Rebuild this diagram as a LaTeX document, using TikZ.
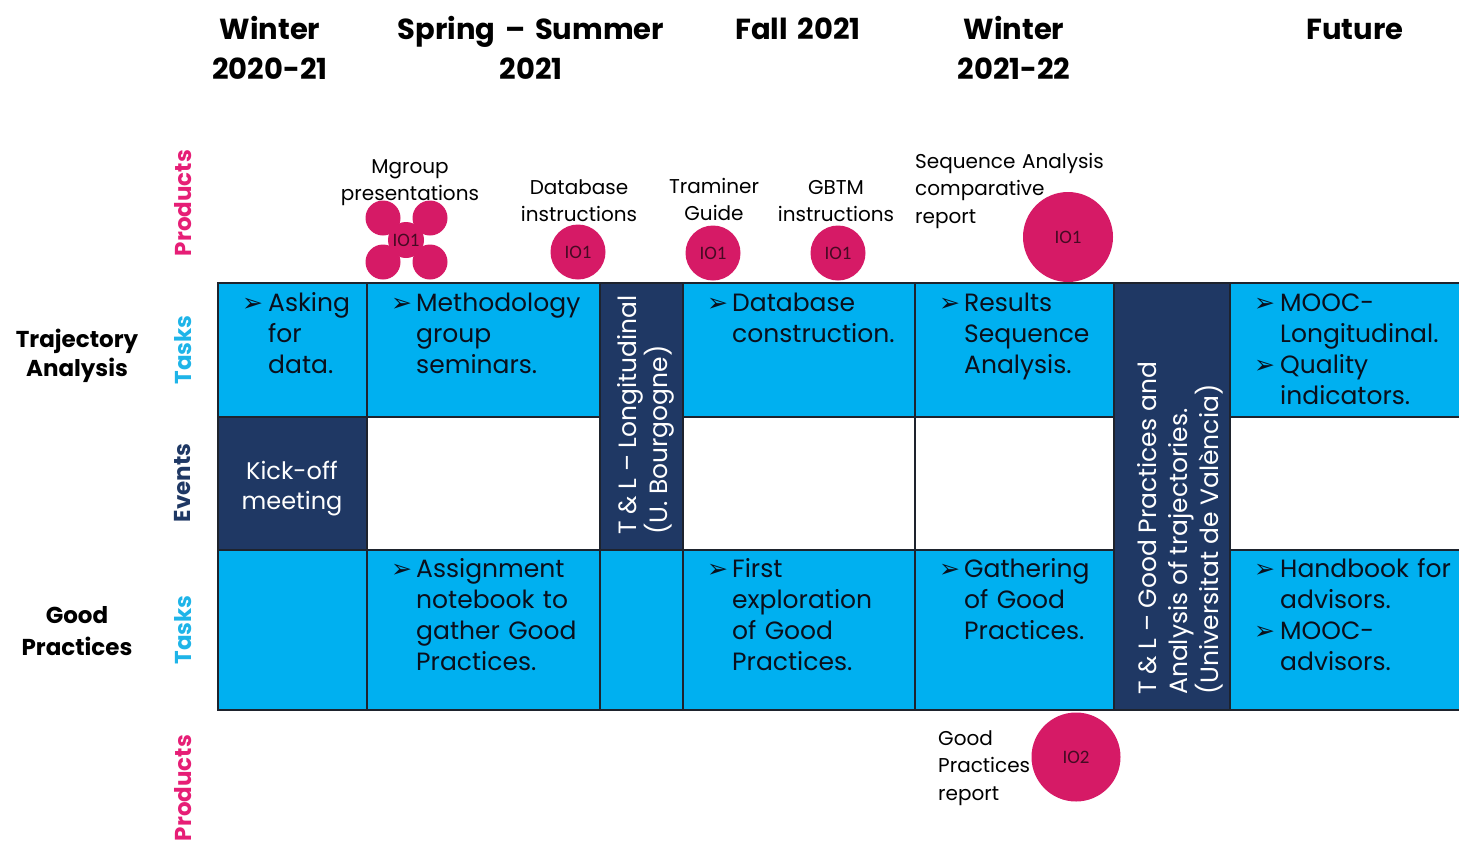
\documentclass[tikz,border=0pt]{standalone}
\usepackage{fontspec}
\setmainfont{Poppins}
\newfontfamily\arrowfont{DejaVu Sans}
\newfontfamily\iofont{Carlito}
\definecolor{tcyan}{RGB}{0,176,240}
\definecolor{tnavy}{RGB}{31,56,100}
\definecolor{tmag}{RGB}{214,26,102}
\definecolor{tpink}{RGB}{230,30,118}
\definecolor{tsky}{RGB}{30,180,232}
\definecolor{ttext}{RGB}{10,15,28}
\definecolor{tline}{RGB}{30,35,45}
\definecolor{tiotext}{RGB}{70,10,35}
\begin{document}
\begin{tikzpicture}[x=1pt,y=-1pt,
  cell/.style={draw=tline, line width=1.2pt},
  ctext/.style={anchor=base west, inner sep=0pt, text width=190pt, align=left, text=ttext, font=\fontsize{25}{31}\selectfont},
  bul/.style={anchor=base west, inner sep=0pt, text=ttext, font=\arrowfont\fontsize{25}{25}\selectfont},
  head/.style={anchor=base, inner sep=0pt, text width=320pt, align=center, font=\bfseries\fontsize{29}{40}\selectfont},
  side/.style={anchor=base, inner sep=0pt, text width=200pt, align=center, font=\bfseries\fontsize{23}{29}\selectfont},
  vlab/.style={rotate=90, inner sep=0pt, font=\bfseries\fontsize{23}{23}\selectfont},
  plab/.style={anchor=base, inner sep=0pt, text width=200pt, align=center, font=\fontsize{20}{27}\selectfont},
  plabl/.style={anchor=base west, inner sep=0pt, text width=220pt, align=left, font=\fontsize{20}{27.5}\selectfont},
  io/.style={circle, fill=tmag, inner sep=0pt, text=tiotext, font=\iofont\fontsize{19}{19}\selectfont},
  vtext/.style={rotate=90, anchor=west, inner sep=0pt, align=left, text=white, font=\fontsize{25}{31}\selectfont},
]
\useasboundingbox (0,0) rectangle (1459,844);
\clip (0,0) rectangle (1459,844);

% ---- grid cells ----
\foreach \a/\b/\c/\d/\f in {
  218/283/367/417/tcyan, 367/283/600/417/tcyan, 683/283/915/417/tcyan,
  915/283/1114/417/tcyan, 1230/283/1475/417/tcyan,
  218/417/367/550/tnavy, 367/417/600/550/white, 683/417/915/550/white,
  915/417/1114/550/white, 1230/417/1475/550/white,
  218/550/367/710/tcyan, 367/550/600/710/tcyan, 600/550/683/710/tcyan,
  683/550/915/710/tcyan, 915/550/1114/710/tcyan, 1230/550/1475/710/tcyan,
  600/283/683/550/tnavy, 1114/283/1230/710/tnavy}
  \filldraw[cell, fill=\f] (\a,\b) rectangle (\c,\d);
\draw[tline, line width=2pt] (218,283) rectangle (1480,710);

% ---- headers ----
\node[head] (h1) at (270,39) {Winter\\2020-21};
\node[head] (h2) at (531,39) {Spring – Summer\\2021};
\node[head] (h3) at (798,39) {Fall 2021};
\node[head] (h4) at (1014,39) {Winter\\2021-22};
\node[head] (h5) at (1355,39) {Future};

% ---- left labels ----
\node[side] (s1) at (77,347) {Trajectory\\Analysis};
\node[side, font=\bfseries\fontsize{23}{32}\selectfont] (s2) at (77,623) {Good\\Practices};

\node[vlab, text=tpink] (v1) at (183,203) {Products};
\node[vlab, text=tsky] (v2) at (183,350) {Tasks};
\node[vlab, text=tnavy] (v3) at (183,483) {Events};
\node[vlab, text=tsky] (v4) at (183,630) {Tasks};
\node[vlab, text=tpink] (v5) at (183,788) {Products};

% ---- products ----
\node[plab] (pl1) at (410,173) {Mgroup\\presentations};
\node[plab] (pl2) at (579,194) {Database\\instructions};
\node[plab] (pl3) at (714,193) {Traminer\\Guide};
\node[plab] (pl4) at (836,194) {GBTM\\instructions};
\node[plabl] (pl5) at (915,168) {Sequence Analysis\\comparative\\report};
\node[plabl] (pl6) at (938,745) {Good\\Practices\\report};

\node[io, minimum size=35pt] (f1) at (383,218) {};
\node[io, minimum size=35pt] (f2) at (430,218) {};
\node[io, minimum size=35pt] (f3) at (383,262) {};
\node[io, minimum size=35pt] (f4) at (430,262) {};
\node[io, minimum size=36pt] (f0) at (406,240) {IO1};
\node[io, minimum size=55pt] (c1) at (578,252) {IO1};
\node[io, minimum size=55pt] (c2) at (713,253) {IO1};
\node[io, minimum size=55pt] (c3) at (838,253) {IO1};
\node[io, minimum size=90pt] (c4) at (1068,237) {IO1};
\node[io, minimum size=89pt] (c5) at (1076,757) {IO2};

% ---- tasks row 1 ----
\node[bul] (b1) at (242,311) {➢};
\node[ctext] (t1) at (268,311) {Asking\\for\\data.};
\node[bul] (b2) at (391,311) {➢};
\node[ctext] (t2) at (416,311) {Methodology\\group\\seminars.};
\node[bul] (b3) at (707,311) {➢};
\node[ctext] (t3) at (732,311) {Database\\construction.};
\node[bul] (b4) at (939,311) {➢};
\node[ctext] (t4) at (964,311) {Results\\Sequence\\Analysis.};
\node[bul] (b5) at (1254,311) {➢};
\node[ctext] (t5) at (1280,311) {MOOC-\\Longitudinal.};
\node[bul] (b6) at (1254,373) {➢};
\node[ctext] (t6) at (1280,373) {Quality\\indicators.};

% ---- events ----
\node[anchor=base, inner sep=0pt, text width=140pt, align=center, text=white, font=\fontsize{24}{30}\selectfont] (k) at (292,479) {Kick-off\\meeting};
\node[vtext] (tl1) at (646,535) {T \& L – Longitudinal\\(U. Bourgogne)};
\node[vtext] (tl2) at (1180,695) {T \& L – Good Practices and\\Analysis of trajectories.\\(Universitat de València)};

% ---- tasks row 3 ----
\node[bul] (b7) at (391,577) {➢};
\node[ctext] (t7) at (416,577) {Assignment\\notebook to\\gather Good\\Practices.};
\node[bul] (b8) at (707,577) {➢};
\node[ctext] (t8) at (732,577) {First\\exploration\\of Good\\Practices.};
\node[bul] (b9) at (939,577) {➢};
\node[ctext] (t9) at (964,577) {Gathering\\of Good\\Practices.};
\node[bul] (b10) at (1254,577) {➢};
\node[ctext] (t10) at (1280,577) {Handbook for\\advisors.};
\node[bul] (b11) at (1254,639) {➢};
\node[ctext] (t11) at (1280,639) {MOOC-\\advisors.};
\end{tikzpicture}
\end{document}
